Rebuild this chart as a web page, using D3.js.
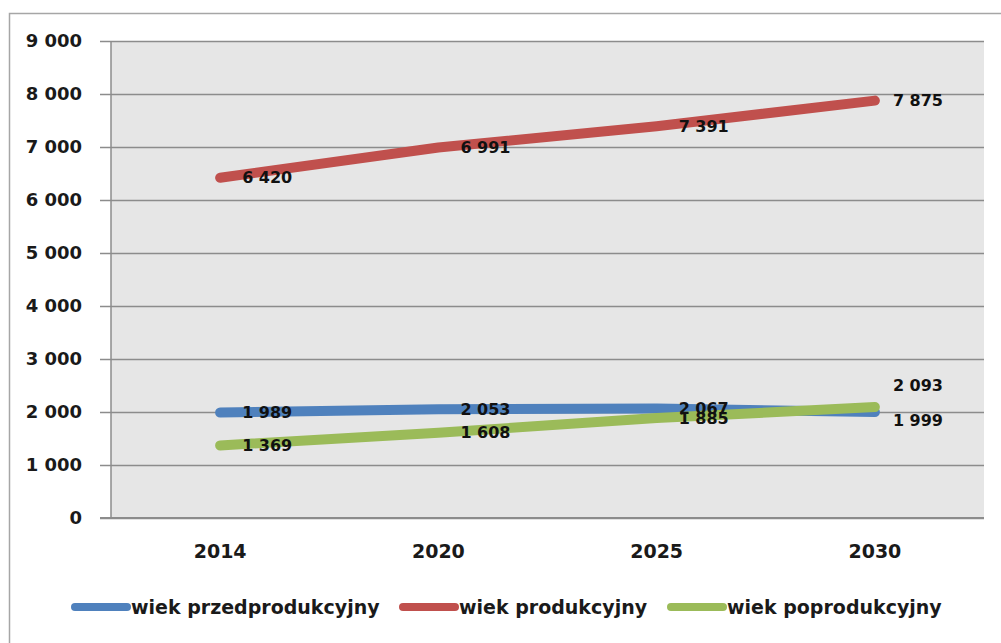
<!DOCTYPE html>
<html>
<head>
<meta charset="utf-8">
<script src="https://cdn.jsdelivr.net/npm/d3@7"></script>
<style>
  body { margin: 0; background: #fff; }
  svg { display: block; font-family: "DejaVu Sans", sans-serif; }
</style>
</head>
<body>
<svg width="1001" height="643"></svg>
<script>
const lata = ["2014", "2020", "2025", "2030"]
const przedprodukcyjny = [1989, 2053, 2067, 1999]
const produkcyjny = [6420, 6991, 7391, 7875]
const poprodukcyjny = [1369, 1608, 1885, 2093]
const yTicks = [0, 1000, 2000, 3000, 4000, 5000, 6000, 7000, 8000, 9000]

const serie = [
  { nazwa: "wiek przedprodukcyjny", wartosci: przedprodukcyjny, kolor: "#4f81bd" },
  { nazwa: "wiek produkcyjny", wartosci: produkcyjny, kolor: "#c0504d" },
  { nazwa: "wiek poprodukcyjny", wartosci: poprodukcyjny, kolor: "#9bbb59" }
]

const svg = d3.select("svg")
const plot = { left: 111, top: 41, right: 984, bottom: 518 }
const liczba = v => d3.format(",")(v).replace(/,/g, " ")

// ramka wykresu
svg.append("rect")
  .attr("x", 9.5).attr("y", 13.5)
  .attr("width", 1010).attr("height", 650)
  .attr("fill", "none").attr("stroke", "#a6a6a6").attr("stroke-width", 1.5)

const x = d3.scaleBand().domain(lata).range([plot.left, plot.right])
const y = d3.scaleLinear().domain([0, 9000]).range([plot.bottom, plot.top])

svg.append("rect")
  .attr("x", plot.left).attr("y", plot.top)
  .attr("width", plot.right - plot.left).attr("height", plot.bottom - plot.top)
  .attr("fill", "#e6e6e6")

// siatka + os Y
const yAxis = svg.append("g")
  .attr("transform", `translate(${plot.left},0)`)
  .call(d3.axisLeft(y).tickValues(yTicks)
    .tickSize(-(plot.right - plot.left))
    .tickFormat(liczba))
  .attr("font-family", "DejaVu Sans")
yAxis.select(".domain").remove()
yAxis.selectAll(".tick line").attr("stroke", "#8c8c8c").attr("stroke-width", 1.5)
  .attr("x1", -11)
yAxis.selectAll(".tick text")
  .attr("x", -29)
  .attr("font-size", 18).attr("font-weight", "bold").attr("fill", "#1a1a1a")

svg.append("line")
  .attr("x1", plot.left).attr("x2", plot.left)
  .attr("y1", plot.top).attr("y2", plot.bottom)
  .attr("stroke", "#8c8c8c").attr("stroke-width", 1.5)

// os X
const xAxis = svg.append("g")
  .attr("transform", `translate(0,${plot.bottom})`)
  .call(d3.axisBottom(x).tickSize(0).tickPadding(27))
  .attr("font-family", "DejaVu Sans")
xAxis.select(".domain").remove()
xAxis.selectAll(".tick text")
  .attr("font-size", 19).attr("font-weight", "bold").attr("fill", "#1a1a1a")

svg.append("line")
  .attr("x1", plot.left - 11).attr("x2", plot.right)
  .attr("y1", plot.bottom).attr("y2", plot.bottom)
  .attr("stroke", "#8c8c8c").attr("stroke-width", 2)

const cx = d => x(d) + x.bandwidth() / 2
const linia = d3.line()
  .x((d, i) => cx(lata[i]))
  .y(d => y(d))

svg.selectAll(".seria")
  .data(serie)
  .enter().append("path")
    .attr("class", "seria")
    .attr("d", d => linia(d.wartosci))
    .attr("fill", "none")
    .attr("stroke", d => d.kolor)
    .attr("stroke-width", 10)
    .attr("stroke-linecap", "round")
    .attr("stroke-linejoin", "round")

// etykiety danych
const etykiety = []
serie.forEach((s, si) => s.wartosci.forEach((v, i) => etykiety.push({ si, i, v })))

svg.selectAll(".etykieta")
  .data(etykiety)
  .enter().append("text")
    .attr("class", "etykieta")
    .attr("x", d => cx(lata[d.i]) + (d.i === 3 ? 18 : 22))
    .attr("y", d => {
      let dy = 0
      if (d.i === 3 && d.si === 2) dy = -22
      if (d.i === 3 && d.si === 0) dy = 8
      return y(d.v) + dy
    })
    .attr("dy", "0.35em")
    .attr("font-size", 16).attr("font-weight", "bold").attr("fill", "#111")
    .text(d => liczba(d.v))

// legenda
const legendaX = [72, 400, 668]
const legenda = svg.selectAll(".legenda")
  .data(serie)
  .enter().append("g")
    .attr("class", "legenda")
    .attr("transform", (d, i) => `translate(${legendaX[i]},607)`)
legenda.append("line")
  .attr("x1", 3).attr("x2", 55)
  .attr("stroke", d => d.kolor).attr("stroke-width", 8).attr("stroke-linecap", "round")
legenda.append("text")
  .attr("x", 59).attr("dy", "0.35em")
  .attr("font-size", 19).attr("font-weight", "bold").attr("fill", "#1a1a1a")
  .text(d => d.nazwa)
</script>
</body>
</html>
